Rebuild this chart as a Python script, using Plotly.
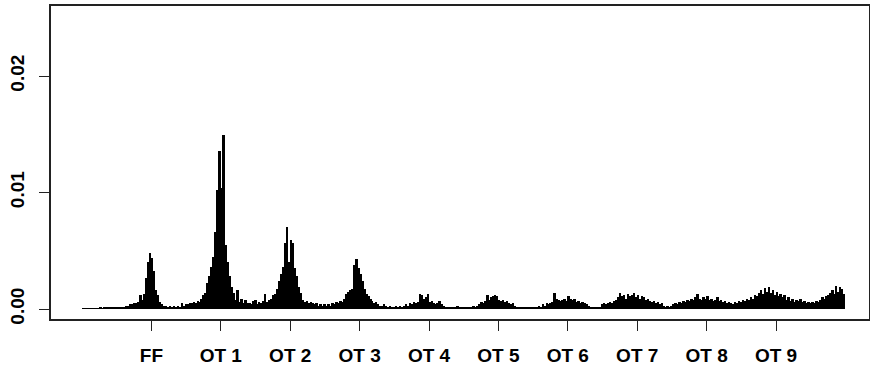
import plotly.graph_objects as go

# Tick labels at positions 1..10 on the x axis
tick_labels = ["FF", "OT 1", "OT 2", "OT 3", "OT 4", "OT 5", "OT 6", "OT 7", "OT 8", "OT 9"]
tick_positions = [1, 2, 3, 4, 5, 6, 7, 8, 9, 10]
bins_per_unit = 35

# Density values (in units of 1e-4), segment by segment
seg_pre = [0.3, 0.3, 0.3, 0.3, 0.3, 0.3, 0.3, 0.3, 0.3, 1, 0.5, 1, 1, 1.5, 1, 1.5, 2]
seg_ff = [2, 2, 1, 2, 2, 3, 3, 4, 4, 5, 5, 6, 12, 8, 13, 27, 40, 48, 44, 33, 16, 12, 6, 4,
          3, 3, 2, 3, 2, 3, 2, 3, 2, 5, 3]
seg_ot1 = [4, 4, 5, 5, 6, 5, 7, 6, 9, 12, 14, 22, 28, 36, 45, 66, 102, 136, 104, 149, 55, 40,
           28, 19, 14, 8, 16, 6, 9, 5, 8, 5, 5, 4, 7]
seg_ot2 = [8, 4, 6, 5, 7, 13, 6, 8, 9, 12, 13, 17, 24, 30, 36, 57, 70, 40, 59, 57, 35, 28,
           19, 14, 8, 6, 7, 5, 6, 5, 4, 5, 3, 4, 3]
seg_ot3 = [4, 3, 4, 3, 5, 4, 6, 5, 7, 6, 9, 13, 15, 16, 17, 38, 43, 35, 30, 24, 17, 13, 11,
           9, 7, 5, 6, 4, 3, 3, 4, 3, 2, 3, 2]
seg_ot4 = [2, 3, 2, 3, 2, 3, 4, 3, 5, 4, 6, 5, 6, 13, 12, 9, 10, 13, 6, 7, 5, 4, 5, 7, 4,
           3, 2, 2, 1, 2, 1, 2, 3, 2, 2]
seg_ot5 = [1, 2, 1, 2, 2, 3, 2, 3, 4, 6, 5, 7, 12, 8, 10, 11, 12, 11, 8, 7, 8, 6, 7, 5, 4,
           5, 3, 2, 1, 1, 2, 1, 2, 1, 2]
seg_ot6 = [2, 1, 2, 3, 2, 4, 3, 5, 4, 5, 6, 14, 9, 8, 7, 8, 9, 7, 11, 9, 8, 9, 6, 7, 5, 6,
           5, 4, 3, 2, 1, 2, 1, 2, 2]
seg_ot7 = [4, 5, 4, 5, 6, 5, 7, 8, 10, 14, 11, 12, 9, 13, 11, 12, 14, 10, 12, 9, 11, 10, 8,
           9, 7, 6, 7, 5, 6, 4, 5, 3, 2, 3, 2]
seg_ot8 = [3, 4, 5, 4, 6, 5, 7, 6, 8, 7, 9, 8, 10, 13, 9, 8, 10, 9, 11, 8, 9, 7, 8, 10, 7,
           8, 6, 7, 5, 6, 5, 4, 6, 5, 7]
seg_ot9 = [6, 8, 7, 9, 8, 10, 9, 12, 11, 14, 16, 13, 18, 15, 19, 14, 16, 12, 15, 11, 13, 10,
           12, 8, 10, 7, 9, 6, 8, 7, 9, 6, 7, 5, 6]
seg_post = [5, 6, 5, 7, 6, 8, 10, 9, 11, 12, 14, 16, 13, 20, 15, 19, 17, 13]

density_x1e4 = (seg_pre + seg_ff + seg_ot1 + seg_ot2 + seg_ot3 + seg_ot4 + seg_ot5
                + seg_ot6 + seg_ot7 + seg_ot8 + seg_ot9 + seg_post)
y_vals = [v * 1e-4 for v in density_x1e4]
x_vals = [(i + 0.5) / bins_per_unit for i in range(len(y_vals))]

fig = go.Figure()
fig.add_trace(go.Bar(
    x=x_vals, y=y_vals, width=1.0 / bins_per_unit,
    marker=dict(color="black", line=dict(width=0)),
    hoverinfo="x+y",
))

font = dict(family="Liberation Sans, Arial, sans-serif", size=19, color="black")

fig.update_layout(
    width=870, height=368,
    margin=dict(l=51, r=1, t=6, b=49),
    paper_bgcolor="white", plot_bgcolor="white",
    showlegend=False, bargap=0,
    font=font,
    xaxis=dict(
        range=[-0.447, 11.34],
        tickmode="array", tickvals=tick_positions,
        ticktext=["<b>%s</b>" % t for t in tick_labels],
        ticks="outside", ticklen=10, tickwidth=1.2, tickcolor="#222",
        showline=True, linecolor="#222", linewidth=1.5, mirror=True,
        showgrid=False, zeroline=False, automargin=False,
        ticklabelstandoff=8,
    ),
    yaxis=dict(
        range=[-0.000858, 0.02601],
        tickmode="array", tickvals=[0.0, 0.01, 0.02],
        ticktext=["<b>0.00</b>", "<b>0.01</b>", "<b>0.02</b>"],
        tickangle=-90,
        ticks="outside", ticklen=10, tickwidth=1.2, tickcolor="#222",
        showline=True, linecolor="#222", linewidth=1.5, mirror=True,
        showgrid=False, zeroline=False, automargin=False,
        ticklabelstandoff=8,
    ),
)

fig.write_html(
    "out.html",
    config={"displayModeBar": False},
    post_script="document.body.style.margin='0';document.body.style.overflow='hidden';",
)
